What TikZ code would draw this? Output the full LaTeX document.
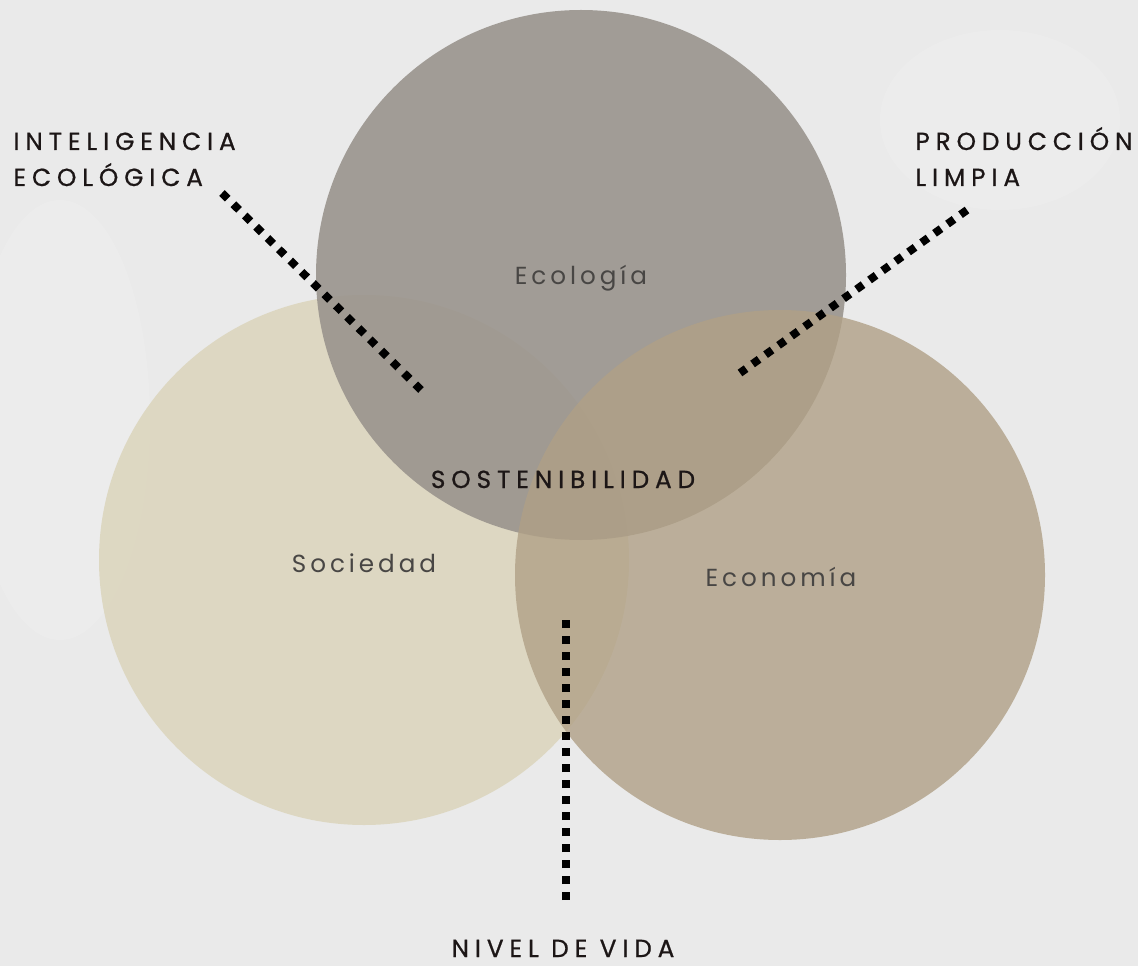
\documentclass[tikz,border=0pt]{standalone}
\usepackage{fontspec}
\setmainfont{Poppins}
\newfontfamily\capsfont[LetterSpace=24, FakeBold=0.8]{Poppins}
\newfontfamily\circfont[LetterSpace=16]{Poppins}
\tikzset{every picture/.style={line width=0.75pt}}
\tikzset{
  caplabel/.style={anchor=base west, inner sep=0pt, text={rgb,255:red,28;green,22;blue,22}, font=\capsfont\fontsize{18.5}{24}\selectfont},
  circlabel/.style={inner sep=0pt, text={rgb,255:red,72;green,70;blue,68}, font=\circfont\fontsize{18.5}{22}\selectfont},
  dotline/.style={line width=6pt, dash pattern=on 6pt off 6pt, black}
}

\begin{document}
\begin{tikzpicture}[x=0.75pt,y=0.75pt,yscale=-1,xscale=1]
	%Background
	\fill [color={rgb, 255:red, 234; green, 234; blue, 234 }] (0,0) rectangle (1138,966);
	\useasboundingbox (0,0) rectangle (1138,966);
	\fill [white, opacity=0.12] (60,420) ellipse [x radius=90, y radius=220];
	\fill [white, opacity=0.12] (1000,120) ellipse [x radius=120, y radius=90];
	
	%Shape: Circle [Sociedad]
	\fill [color={rgb, 255:red, 221; green, 215; blue, 192 }  ,fill opacity=0.95 ] (364,560) circle [radius=265];
	%Shape: Circle [Ecologia]
	\fill [color={rgb, 255:red, 154; green, 148; blue, 141 }  ,fill opacity=0.9 ] (581,275) circle [radius=265];
	%Shape: Circle [Economia]
	\fill [color={rgb, 255:red, 176; green, 160; blue, 134 }  ,fill opacity=0.8 ] (780,575) circle [radius=265];
	
	% Text Node
	\node [circlabel] (ecologia) at (581,278) {Ecología};
	% Text Node
	\node [circlabel] (sociedad) at (364,563) {Sociedad};
	% Text Node
	\node [circlabel] (economia) at (781,577) {Economía};
	% Text Node
	\node [caplabel, anchor=base] (sosten) at (563,488) {SOSTENIBILIDAD};
	% Text Node
	\node [caplabel] (intel) at (13,150) {INTELIGENCIA};
	\node [caplabel] (ecolog) at (13,186) {ECOLÓGICA};
	% Text Node
	\node [caplabel] (produc) at (915,150) {PRODUCCIÓN};
	\node [caplabel] (limpia) at (915,186) {LIMPIA};
	% Text Node
	\node [caplabel, anchor=base] (nivel) at (563,957) {NIVEL DE VIDA};
	
	%Straight Lines
	\coordinate (intelA) at (222,193);
	\coordinate (intelB) at (421,390);
	\coordinate (producA) at (967,210);
	\coordinate (producB) at (740,373);
	\coordinate (nivelA) at (566,900);
	\coordinate (nivelB) at (566,620);
	\draw [dotline] (intelA) -- (intelB);
	\draw [dotline] (producA) -- (producB);
	\draw [dotline] (nivelA) -- (nivelB);
	
\end{tikzpicture}
\end{document}
